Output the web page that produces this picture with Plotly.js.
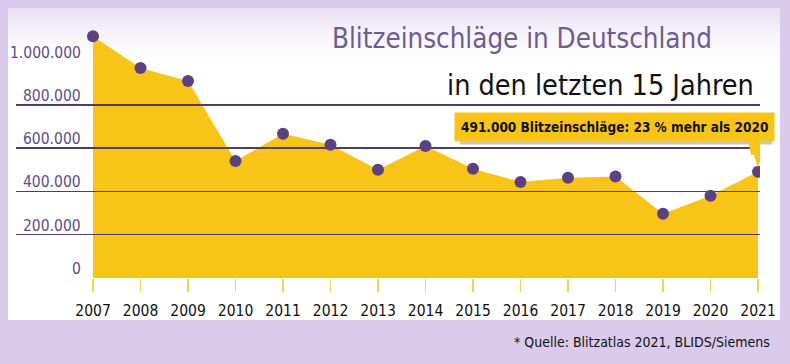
<!DOCTYPE html>
<html>
<head>
<meta charset="utf-8">
<script src="https://cdn.plot.ly/plotly-3.0.1.min.js"></script>
<style>
html,body{margin:0;padding:0;background:#dacbec;}
#chart{width:790px;height:364px;}
#chart svg text{font-stretch:condensed !important;}
</style>
</head>
<body>
<div id="chart"></div>
<script>
// ---- data ----
const years = [2007, 2008, 2009, 2010, 2011, 2012, 2013, 2014, 2015, 2016, 2017, 2018, 2019, 2020, 2021];
const strikes = [1117000, 970000, 910000, 540000, 666000, 615000, 500000, 610000, 505000, 443000, 463000, 469000, 297000, 380000, 491000];
const yearLabels = years.map(String);
const yTickVals = [0, 200000, 400000, 600000, 800000, 1000000];
const yTickText = ["0", "200.000", "400.000", "600.000", "800.000", "1.000.000"];
const gridVals = [0, 200000, 400000, 600000, 800000];
const titleText = "Blitzeinschläge in Deutschland";
const subtitleText = "in den letzten 15 Jahren";
const calloutText = "491.000 Blitzeinschläge: 23 % mehr als 2020";
const sourceText = "* Quelle: Blitzatlas 2021, BLIDS/Siemens";

// ---- styling ----
const FONT = "'DejaVu Sans Condensed', 'DejaVu Sans', sans-serif";
const GOLD = "#f9c418";
const PURPLE_DOT = "#5b417f";
const GRID = "#4e3d66";
const LABEL_PURPLE = "#5e4d84";
const BG = "#dacbec";

const W = 790, H = 364;
const L = 16, R = 30, T = 20, B = 86;
const pw = W - L - R, ph = H - T - B;
const xRange = [2005.379, 2021.042];
const yRange = [0, 1191700];
const px = X => (X - L) / pw;
const py = Y => (H - B - Y) / ph;

const traces = [
  {
    x: years, y: strikes, type: 'scatter', mode: 'lines',
    fill: 'tozeroy', fillcolor: GOLD, line: {width: 0, color: GOLD},
    xaxis: 'x', yaxis: 'y', hoverinfo: 'skip', showlegend: false
  },
  {
    x: years, y: strikes, type: 'scatter', mode: 'markers',
    marker: {size: 12, color: PURPLE_DOT},
    xaxis: 'x2', yaxis: 'y2', showlegend: false
  }
];

const annotations = [];
yTickVals.forEach((v, i) => {
  annotations.push({
    xref: 'paper', yref: 'y2', x: px(83), y: v, xanchor: 'right', yanchor: 'bottom',
    text: yTickText[i], showarrow: false, yshift: -2,
    font: {family: FONT, size: 15.5, color: LABEL_PURPLE}
  });
});
annotations.push({
  xref: 'paper', yref: 'paper', x: px(714), y: py(38), xanchor: 'right', yanchor: 'middle',
  text: titleText, showarrow: false, font: {family: FONT, size: 27.5, color: '#6d5c92'}
});
annotations.push({
  xref: 'paper', yref: 'paper', x: px(756), y: py(85), xanchor: 'right', yanchor: 'middle',
  text: subtitleText, showarrow: false, font: {family: FONT, size: 28.5, color: '#111111'}
});
annotations.push({
  xref: 'paper', yref: 'paper', x: px(614), y: py(127.5), xanchor: 'center', yanchor: 'middle',
  text: '<b>' + calloutText + '</b>', showarrow: false, bgcolor: GOLD, borderpad: 6,
  font: {family: FONT, size: 13.5, color: '#111111'}
});
annotations.push({
  xref: 'paper', yref: 'paper', x: px(772), y: py(342), xanchor: 'right', yanchor: 'middle',
  text: sourceText, showarrow: false, font: {family: FONT, size: 14, color: '#111111'}
});

const shapes = [
  {type: 'rect', xref: 'paper', yref: 'paper', x0: px(8), x1: px(780), y0: py(320), y1: py(8),
   fillcolor: '#ffffff', line: {width: 0}, layer: 'below'}
];
// soft lavender fade at the top of the white panel
for (let k = 0; k < 16; k++) {
  const y0 = 8 + k * 4;
  shapes.push({type: 'rect', xref: 'paper', yref: 'paper', x0: px(8), x1: px(780),
    y0: py(y0 + 4), y1: py(y0), fillcolor: BG, opacity: 0.6 * Math.pow(1 - k / 16, 2),
    line: {width: 0}, layer: 'below'});
}
// callout shadow
shapes.push({type: 'rect', xref: 'paper', yref: 'paper', x0: px(460), x1: px(772), y0: py(144.5), y1: py(115),
  fillcolor: 'rgba(110,90,40,0.35)', line: {width: 0}, layer: 'above'});
// callout tail (lightning shaped)
shapes.push({type: 'path', xref: 'x2', yref: 'y2', xsizemode: 'pixel', ysizemode: 'pixel',
  xanchor: years[years.length - 1], yanchor: strikes[strikes.length - 1],
  path: 'M -10 31 L 4 31 L 2 19 L 5 19 L 0 4 L -4 17 L -7 17 Z',
  fillcolor: GOLD, line: {width: 0}, layer: 'above'});

const layout = {
  width: W, height: H,
  margin: {l: L, r: R, t: T, b: B},
  paper_bgcolor: BG, plot_bgcolor: 'rgba(0,0,0,0)',
  showlegend: false,
  xaxis: {
    domain: [0, 1], range: xRange, anchor: 'y',
    tickmode: 'array', tickvals: years, ticktext: yearLabels,
    ticks: 'outside', ticklen: 13, tickwidth: 1.5, tickcolor: '#f3d54a',
    showgrid: false, zeroline: false, showline: false, ticklabelstandoff: 5,
    tickfont: {family: FONT, size: 15.5, color: '#111111'}
  },
  yaxis: {domain: [0, 1], range: yRange, anchor: 'x', visible: false, fixedrange: true},
  xaxis2: {domain: [0, 1], range: xRange, anchor: 'y2', visible: false},
  yaxis2: {
    domain: [0, 1], range: yRange, anchor: 'x2',
    tickmode: 'array', tickvals: gridVals, showticklabels: false, ticks: '',
    showgrid: true, gridcolor: GRID, gridwidth: 1.5, zeroline: false, showline: false
  },
  annotations: annotations,
  shapes: shapes
};

Plotly.newPlot('chart', traces, layout, {displayModeBar: false, staticPlot: true});
</script>
</body>
</html>
